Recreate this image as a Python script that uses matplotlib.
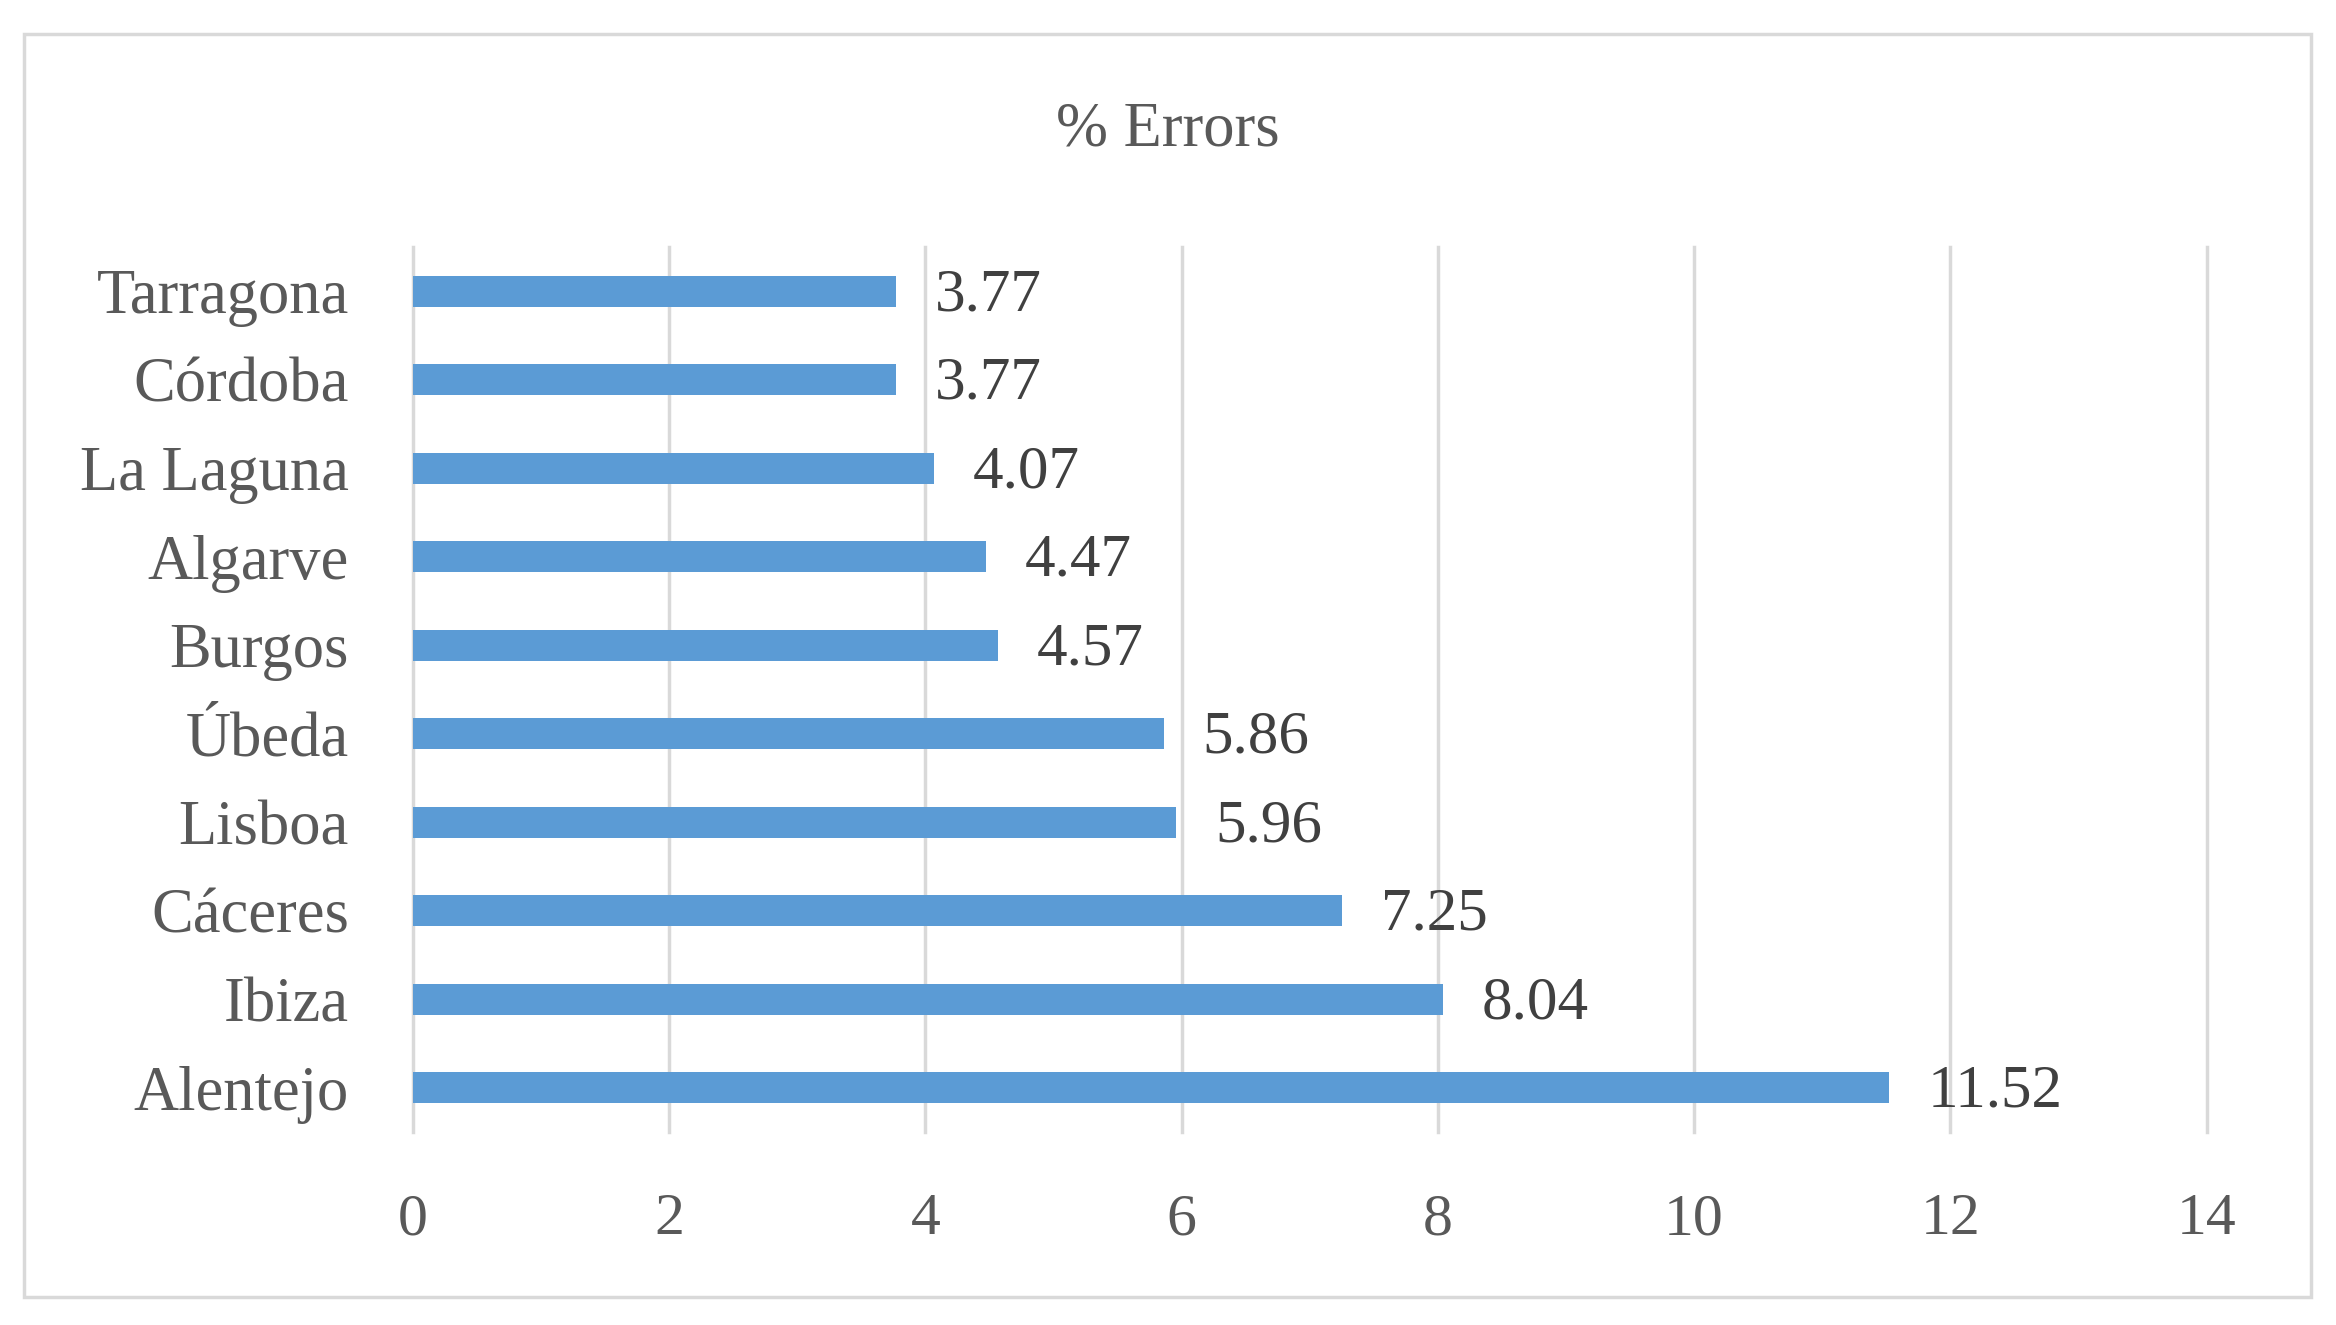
import numpy as np
import matplotlib
matplotlib.use('Agg')
import matplotlib.pyplot as plt
from matplotlib.patches import Rectangle

# data (bottom to top, as Excel draws it)
cities = ['Alentejo', 'Ibiza', 'Cáceres', 'Lisboa', 'Úbeda',
          'Burgos', 'Algarve', 'La Laguna', 'Córdoba', 'Tarragona']
errors = [11.52, 8.04, 7.25, 5.96, 5.86, 4.57, 4.47, 4.07, 3.77, 3.77]
x_ticks = [0, 2, 4, 6, 8, 10, 12, 14]

bar_color = '#5B9BD5'
grid_color = '#D9D9D9'
text_color = '#595959'

plt.rcParams['font.family'] = ['Liberation Serif', 'DejaVu Serif']

fig = plt.figure(figsize=(23.36, 13.25), dpi=100)
ax = fig.add_axes([0.1767, 0.1457, 0.7679, 0.6679])

y = np.arange(len(cities))
ax.barh(y, errors, height=0.35, color=bar_color, zorder=3)

for yi, v in zip(y, errors):
    ax.annotate('%.2f' % v, xy=(v, yi), xytext=(28, -3), textcoords='offset points',
                ha='left', va='center', fontsize=44, color='#404040')

ax.set_xlim(0, 14)
ax.set_ylim(-0.5, len(cities) - 0.5)
ax.set_xticks(x_ticks)
ax.set_xticklabels([str(t) for t in x_ticks])
ax.set_yticks(y)
ax.set_yticklabels(cities)
ax.tick_params(axis='x', length=0, pad=44, labelsize=43, labelcolor=text_color)
ax.tick_params(axis='y', length=0, pad=46, labelsize=45, labelcolor=text_color)

ax.grid(axis='x', color=grid_color, linewidth=2.5, zorder=0)
for gl in ax.get_xgridlines():
    gl.set_clip_on(False)
for s in ax.spines.values():
    s.set_visible(False)

fig.text(0.5, 1 - 131 / 1325, '% Errors', ha='center', va='center',
         fontsize=45, color=text_color)

# chart border
fig.patches.append(Rectangle((0.0103, 0.0211), 0.979, 0.9532, transform=fig.transFigure,
                             fill=False, edgecolor=grid_color, linewidth=2.5))

fig.savefig('out.png', dpi=100)
